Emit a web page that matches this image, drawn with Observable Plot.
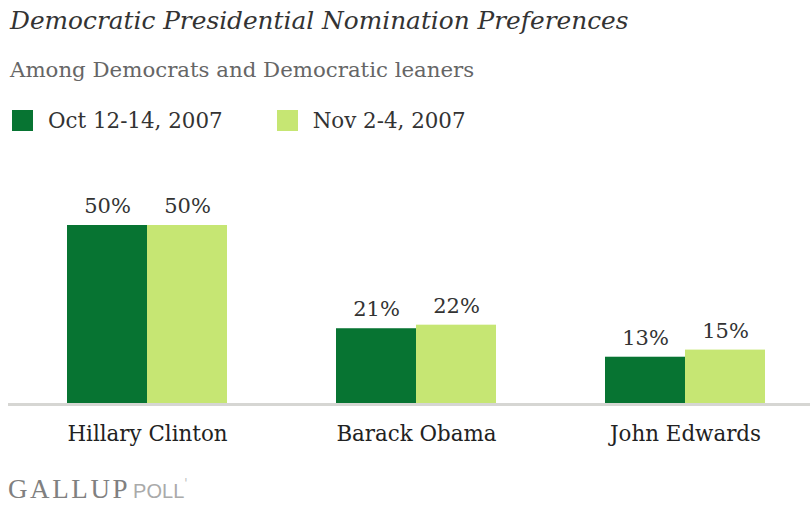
<!DOCTYPE html>
<html><head><meta charset="utf-8">
<script src="https://cdn.jsdelivr.net/npm/d3@7"></script>
<script src="https://cdn.jsdelivr.net/npm/@observablehq/plot@0.6"></script>
<style>
body{margin:0;background:#fff;width:810px;height:505px;position:relative;overflow:hidden;font-family:"DejaVu Serif",serif;}
#title{position:absolute;left:10px;top:6px;font-size:24.8px;font-style:italic;color:#333;white-space:nowrap;}
#subtitle{position:absolute;left:10px;top:57px;font-size:21.3px;color:#666;white-space:nowrap;}
#legend{position:absolute;left:12px;top:108px;font-size:21.4px;color:#333;white-space:nowrap;}
.sw{display:inline-block;width:21px;height:21px;vertical-align:-3px;margin-right:15px;}
.li{display:inline-block;margin-right:54px;}
#chart{position:absolute;left:0;top:150px;}
#footer{position:absolute;left:8px;top:476px;height:26px;display:flex;align-items:baseline;white-space:nowrap;line-height:1;}
#footer span{line-height:1;}
</style></head>
<body>
<div id="title">Democratic Presidential Nomination Preferences</div>
<div id="subtitle">Among Democrats and Democratic leaners</div>
<div id="legend"></div>
<div id="chart"></div>
<div id="footer"><span style="color:#808080;font-family:'Liberation Serif',serif;font-size:27px;letter-spacing:2.6px;">GALLUP</span><span style="color:#aaa;font-family:'Liberation Sans',sans-serif;font-size:20px;margin-left:3px;">POLL</span><span style="color:#bbb;font-size:12px;position:relative;top:-10px">'</span></div>
<script>
const candidates = ["Hillary Clinton", "Barack Obama", "John Edwards"];
const seriesNames = ["Oct 12-14, 2007", "Nov 2-4, 2007"];
const oct = [50, 21, 13];
const nov = [50, 22, 15];
const colors = ["#077432", "#c6e673"];

const data = [];
candidates.forEach((c, i) => {
  data.push({candidate: c, series: seriesNames[0], value: oct[i]});
  data.push({candidate: c, series: seriesNames[1], value: nov[i]});
});

const legend = document.getElementById("legend");
seriesNames.forEach((s, i) => {
  const d = document.createElement("span");
  d.className = "li";
  d.innerHTML = `<span class="sw" style="background:${colors[i]}"></span>${s}`;
  legend.appendChild(d);
});

const plot = Plot.plot({
  width: 810,
  height: 300,
  marginLeft: 8,
  marginRight: 0,
  marginTop: 75,
  marginBottom: 47,
  style: {fontFamily: "DejaVu Serif, serif", fontSize: "21.4px", color: "#222", background: "#fff"},
  fx: {domain: candidates, paddingInner: 0.405, paddingOuter: 0.193, align: 0.567, label: null, tickSize: 0, tickPadding: 22, axis: "bottom"},
  x: {domain: seriesNames, axis: null, padding: 0},
  y: {domain: [0, 50], axis: null},
  color: {domain: seriesNames, range: colors},
  marks: [
    Plot.barY(data, {fx: "candidate", x: "series", y: "value", fill: "series"}),
    Plot.text(data, {fx: "candidate", x: "series", y: "value", text: d => d.value + "%", dy: -19, fontSize: 21, fill: "#333"})
  ]
});
document.getElementById("chart").appendChild(plot);

// baseline rule across the full width, positioned with the plot's y scale
const y0 = plot.scale("y").apply(0);
d3.select(plot).append("line")
  .attr("x1", 8).attr("x2", 810).attr("y1", y0 + 1.5).attr("y2", y0 + 1.5)
  .attr("stroke", "#d6d6d3").attr("stroke-width", 3);
</script>
</body></html>
